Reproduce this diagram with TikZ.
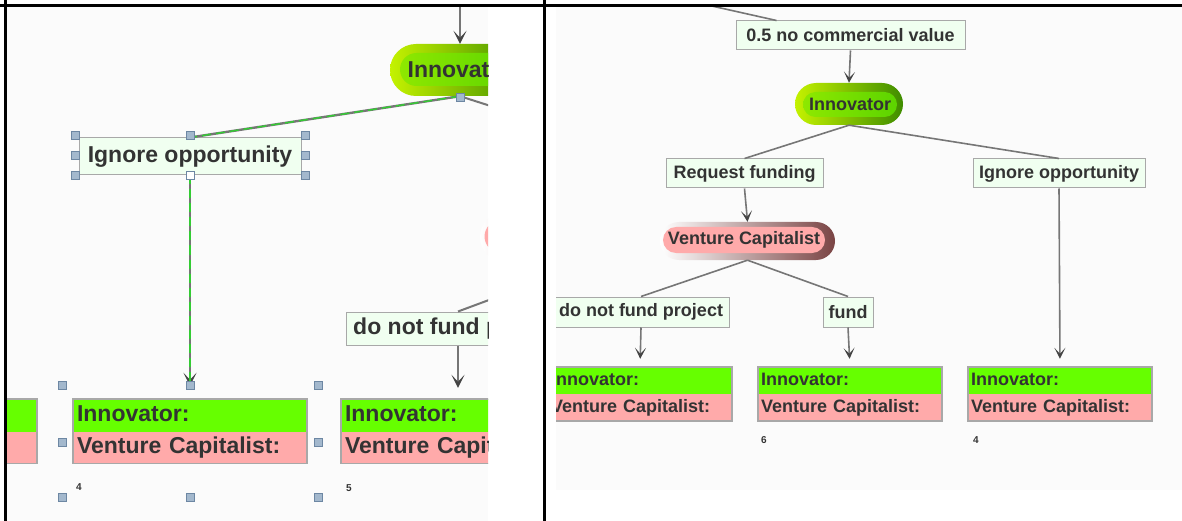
\documentclass[tikz,border=0pt]{standalone}
\usepackage{fontspec}
\setmainfont{Liberation Sans}
\usetikzlibrary{arrows.meta,calc}
\definecolor{txt}{HTML}{333333}
\definecolor{boxfill}{HTML}{F0FFF0}
\definecolor{boxline}{HTML}{A8A8A8}
\definecolor{paygreen}{HTML}{66FF00}
\definecolor{paypink}{HTML}{FFAAAA}
\definecolor{conn}{HTML}{767676}
\definecolor{tipc}{HTML}{444444}
\definecolor{selgreen}{HTML}{33CC33}
\definecolor{hfill}{HTML}{A3B8CD}
\definecolor{hline}{HTML}{6D87A3}
\definecolor{panelbg}{HTML}{FBFBFB}
\definecolor{innL}{HTML}{C4F200}
\definecolor{innR}{HTML}{3F8C00}
\definecolor{inninL}{HTML}{8EE800}
\definecolor{inninR}{HTML}{5CD400}
\definecolor{vcR}{HTML}{7A4444}
\begin{document}
\begin{tikzpicture}[x=1pt,y=-1pt,
  bigf/.style={font=\bfseries\fontsize{23}{23}\selectfont},
  smallf/.style={font=\bfseries\fontsize{18}{18}\selectfont},
  lblbox/.style={draw=boxline, fill=boxfill, line width=1pt, inner sep=0pt, text=txt},
  payg/.style={fill=paygreen, inner sep=0pt, text=txt, align=left},
  payp/.style={fill=paypink, inner sep=0pt, text=txt, align=left},
  pill/.style={inner sep=0pt, text=txt},
  conline/.style={draw=conn, line width=1.6pt},
  arr/.style={conline, -{Stealth[length=11pt,width=11pt,inset=6pt,color=tipc]}},
  bigarr/.style={conline, line width=2pt, -{Stealth[length=13pt,width=13pt,inset=7pt,color=tipc]}},
  handle/.style={draw=hline, fill=hfill, line width=0.6pt, minimum size=8pt, inner sep=0pt},
  numlbl/.style={font=\bfseries\fontsize{10}{10}\selectfont, text=txt, inner sep=0pt, anchor=west}
]
\useasboundingbox (0,0) rectangle (1182,521);
\fill[white] (0,0) rectangle (1182,521);

% ================= LEFT PANEL =================
\fill[panelbg] (7,7) rectangle (488,521);
\begin{scope}
\clip (7,7) rectangle (488,521);
\coordinate (LTop) at (460,0);
\coordinate (LReq) at (600,141);
% Innovator
\node[pill, minimum width=140pt, minimum height=52pt, rounded corners=26pt, left color=innL, right color=innR] (LInn) at (460,70) {};
\node[pill, bigf, minimum width=120pt, minimum height=33pt, rounded corners=16.5pt, left color=inninL, right color=inninR] (LInnT) at (460,69.5) {Innovator};
% Venture Capitalist (mostly out of view)
\node[pill, minimum width=224pt, minimum height=49pt, rounded corners=24.5pt, left color=white, right color=vcR] (LVC) at (592,237) {};
\node[pill, minimum width=207pt, minimum height=33pt, rounded corners=16.5pt, fill=paypink] (LVCT) at (588,236.5) {};
% label boxes
\node[lblbox, bigf, minimum width=222pt, minimum height=37pt] (LIgn) at (190,156.5) {Ignore opportunity};
\node[lblbox, bigf, minimum width=224pt, minimum height=33pt] (LDnf) at (458,328.5) {do not fund project};
% payoffs
\node[payg, bigf, text width=226pt, inner xsep=4pt, minimum height=33pt, text height=16pt, text depth=5pt] (LPay1) at (190,415.5) {Innovator:};
\node[payp, bigf, text width=226pt, inner xsep=4pt, minimum height=32pt, text height=16pt, text depth=5pt] (LPay1b) at (190,447.5) {Venture Capitalist:};
\draw[boxline, line width=1.5pt] (LPay1.north west) rectangle (LPay1b.south east);
\node[payg, bigf, text width=226pt, inner xsep=4pt, minimum height=33pt, text height=16pt, text depth=5pt] (LPay2) at (458,415.5) {Innovator:};
\node[payp, bigf, text width=226pt, inner xsep=4pt, minimum height=32pt, text height=16pt, text depth=5pt] (LPay2b) at (458,447.5) {Venture Capitalist:};
\draw[boxline, line width=1.5pt] (LPay2.north west) rectangle (LPay2b.south east);
\node[payg, minimum width=234pt, minimum height=33pt] (LPay0) at (-80,415.5) {};
\node[payp, minimum width=234pt, minimum height=32pt] (LPay0b) at (-80,447.5) {};
\draw[boxline, line width=1.5pt] (LPay0.north west) rectangle (LPay0b.south east);
\node[numlbl] (LN4) at (76,487) {4};
\node[numlbl] (LN5) at (346,488) {5};
% connectors
\draw[bigarr] (LTop) -- (LInn.north);
\draw[conline, line width=2pt] (LInn.south) -- (LReq);
\draw[conline, line width=2pt] (LVC.south) -- (LDnf.north);
\draw[bigarr, shorten >=11pt] (LDnf.south) -- (LPay2.north);
\draw[conline, line width=2.4pt] (LInn.south) -- (LIgn.north);
\draw[selgreen, line width=1.4pt, dash pattern=on 9pt off 5pt] (LInn.south) -- (LIgn.north);
\draw[bigarr, line width=2.4pt, shorten >=13pt] (LIgn.south) -- (LPay1.north);
\draw[selgreen, line width=1.4pt, dash pattern=on 9pt off 5pt, shorten >=16pt] (LIgn.south) -- (LPay1.north);
% selection handles
\node[handle] (h0) at (460,97) {};
\node[handle] (h1) at (75,135) {};
\node[handle] (h2) at (190,135) {};
\node[handle] (h3) at (305,135) {};
\node[handle] (h4) at (75,155) {};
\node[handle] (h5) at (305,155) {};
\node[handle] (h6) at (75,175) {};
\node[handle, fill=white] (h7) at (190,175) {};
\node[handle] (h8) at (305,175) {};
\node[handle] (h9) at (62,385) {};
\node[handle] (h10) at (190,385) {};
\node[handle] (h11) at (318,385) {};
\node[handle] (h12) at (62,442) {};
\node[handle] (h13) at (318,442) {};
\node[handle] (h14) at (62,497) {};
\node[handle] (h15) at (190,497) {};
\node[handle] (h16) at (318,497) {};
\end{scope}

% ================= RIGHT PANEL =================
\fill[panelbg] (556,7) rectangle (1182,490);
\begin{scope}
\clip (556,7) rectangle (1182,521);
\coordinate (RTopStart) at (685,0);
\node[lblbox, smallf, minimum width=229pt, minimum height=29pt] (RC) at (850.5,35.5) {0.5 no commercial value};
\node[pill, minimum width=108pt, minimum height=42pt, rounded corners=21pt, left color=innL, right color=innR] (RInn) at (849,104) {};
\node[pill, smallf, minimum width=94pt, minimum height=25pt, rounded corners=12.5pt, left color=inninL, right color=inninR] (RInnT) at (850,104.5) {Innovator};
\node[lblbox, smallf, minimum width=157pt, minimum height=29pt] (RReq) at (744.5,173.5) {Request funding};
\node[lblbox, smallf, minimum width=172pt, minimum height=29pt] (RIgn) at (1059,173.5) {Ignore opportunity};
\node[pill, minimum width=175pt, minimum height=38pt, rounded corners=19pt, left color=white, right color=vcR] (RVC) at (747.5,241) {};
\node[pill, smallf, minimum width=162pt, minimum height=26pt, rounded corners=13pt, fill=paypink] (RVCT) at (744,240) {Venture Capitalist};
\node[lblbox, smallf, minimum width=176pt, minimum height=30pt] (RDnf) at (641,312) {do not fund project};
\node[lblbox, smallf, minimum width=50pt, minimum height=30pt] (RFund) at (848,312) {fund};
% payoffs
\foreach \nm/\cx in {RPa/640,RPb/850,RPc/1060}{
  \node[payg, smallf, text width=178pt, inner xsep=3pt, minimum height=27pt, text height=13pt, text depth=4pt] (\nm) at (\cx,380.5) {Innovator:};
  \node[payp, smallf, text width=178pt, inner xsep=3pt, minimum height=27pt, text height=13pt, text depth=4pt] (\nm b) at (\cx,407.5) {Venture Capitalist:};
  \draw[boxline, line width=1.5pt] (\nm.north west) rectangle (\nm b.south east);
}
\node[numlbl] (RN6) at (761,440) {6};
\node[numlbl] (RN4) at (973,440) {4};
% connectors
\draw[conline] (RTopStart) -- ([xshift=41pt]RC.north west);
\draw[arr] (RC.south) -- (RInn.north);
\draw[conline] (RInn.south) -- (RReq.north);
\draw[conline] (RInn.south) -- (RIgn.north);
\draw[arr] (RReq.south) -- (RVC.north);
\draw[conline] (RVC.south) -- (RDnf.north);
\draw[conline] (RVC.south) -- (RFund.north);
\draw[arr, shorten >=8pt] (RDnf.south) -- (RPa.north);
\draw[arr, shorten >=8pt] (RFund.south) -- (RPb.north);
\draw[arr, shorten >=8pt] (RIgn.south) -- (RPc.north);
\end{scope}

% ================= FRAME =================
\draw[black, line width=3pt] (0,5.5) -- (1182,5.5);
\draw[black, line width=3pt] (5.5,0) -- (5.5,521);
\draw[black, line width=3pt] (544,0) -- (544,521);
\end{tikzpicture}
\end{document}
